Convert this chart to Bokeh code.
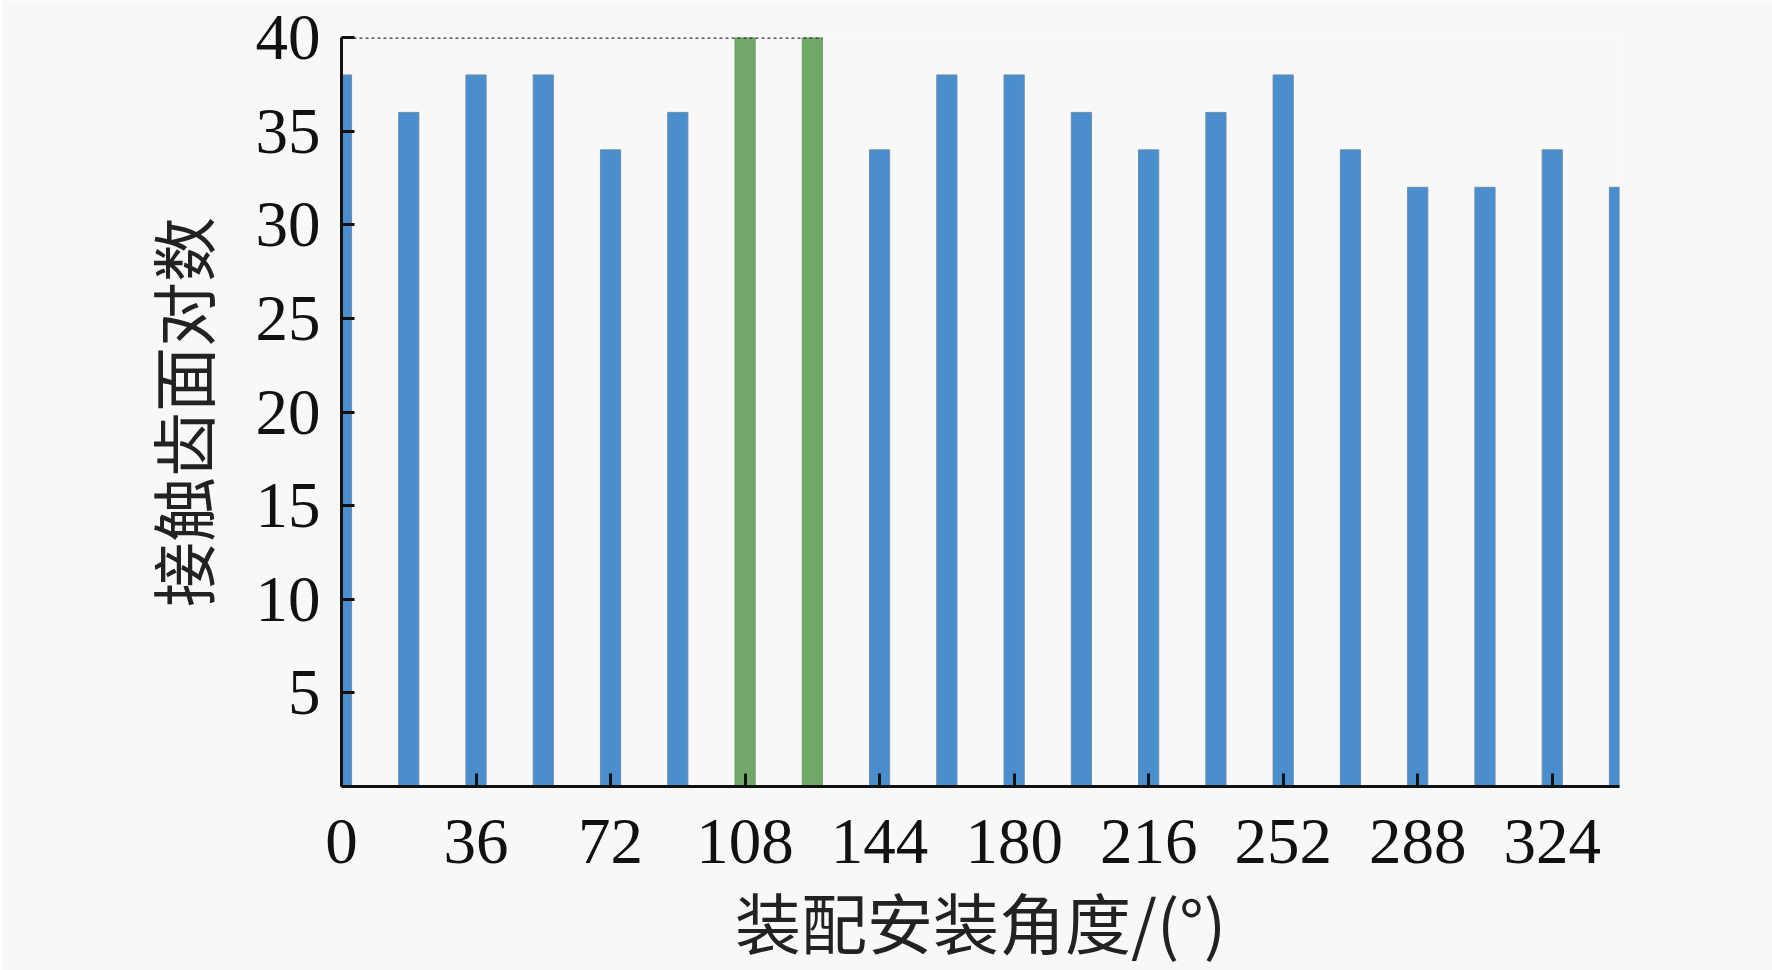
from bokeh.plotting import figure
from bokeh.models import Range1d, FixedTicker
from bokeh.embed import file_html
from bokeh.resources import INLINE

angles = [0, 18, 36, 54, 72, 90, 108, 126, 144, 162, 180, 198, 216, 234, 252, 270, 288, 306, 324, 342]
counts = [38, 36, 38, 38, 34, 36, 40, 40, 34, 38, 38, 36, 34, 36, 38, 34, 32, 32, 34, 32]
x_ticks = [0, 36, 72, 108, 144, 180, 216, 252, 288, 324]
y_ticks = [5, 10, 15, 20, 25, 30, 35, 40]

BLUE = "#4a8ecd"
GREEN = "#70a868"
bar_w = 5.4
ymax = max(counts)
colors = [GREEN if c == ymax else BLUE for c in counts]
edges = ["#6f9a6a" if c == ymax else "#6a8cae" for c in counts]

W, H = 1772, 970
p = figure(width=W, height=H, output_backend="svg", toolbar_location=None,
           x_range=Range1d(0, 342), y_range=Range1d(0, 40),
           min_border_left=341, min_border_right=153, min_border_top=37, min_border_bottom=182)

p.vbar(x=angles, top=counts, width=bar_w, fill_color=colors, line_color=edges, line_width=1)

max_x = [a for a, c in zip(angles, counts) if c == ymax]
p.segment(x0=[0], y0=[ymax], x1=[max_x[-1] + bar_w / 2], y1=[ymax],
          line_color="#333333", line_width=2.5, line_dash="3 3")

bg = "#f8f8f8"
p.background_fill_color = bg
p.border_fill_color = bg
p.outline_line_color = None
p.grid.visible = False

for ax in (p.xaxis[0], p.yaxis[0]):
    ax.axis_line_color = "#111111"
    ax.axis_line_width = 3
    ax.major_tick_line_color = "#111111"
    ax.major_tick_line_width = 3
    ax.major_tick_in = 13
    ax.major_tick_out = 0
    ax.minor_tick_line_color = None
    ax.major_label_text_font = "Liberation Serif"
    ax.major_label_text_font_size = "65px"
    ax.major_label_text_color = "#111111"
    ax.axis_label_text_font = "Noto Sans CJK SC"
    ax.axis_label_text_font_style = "normal"
    ax.axis_label_text_color = "#222222"

p.xaxis.ticker = FixedTicker(ticks=x_ticks)
p.yaxis.ticker = FixedTicker(ticks=y_ticks)
p.xaxis.axis_label = "装配安装角度/(°)"
p.yaxis.axis_label = "接触齿面对数"
p.xaxis.axis_label_text_font_size = "66px"
p.yaxis.axis_label_text_font_size = "65px"
p.xaxis.major_label_standoff = 33
p.yaxis.major_label_standoff = 21
p.xaxis.axis_label_standoff = 6
p.yaxis.axis_label_standoff = 25

open("out.html", "w").write(file_html(p, INLINE))
